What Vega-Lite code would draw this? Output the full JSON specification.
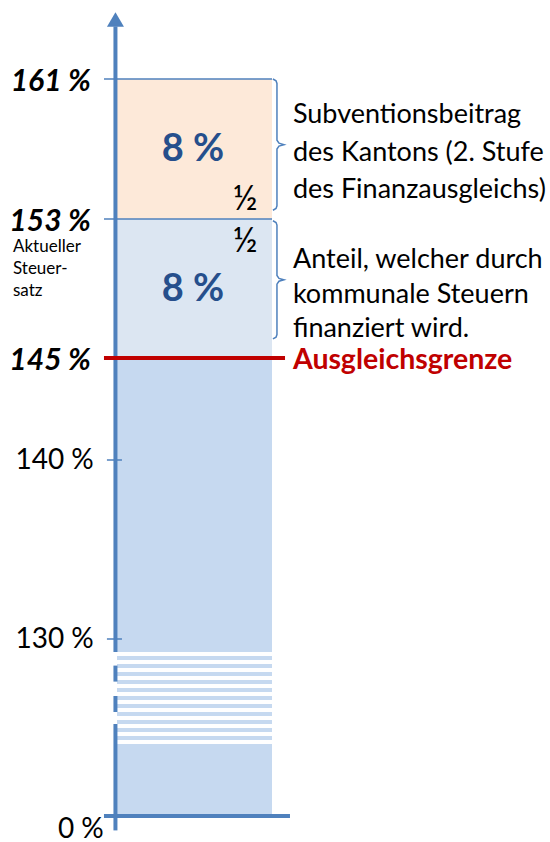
{
  "$schema": "https://vega.github.io/schema/vega-lite/v6.json",
  "width": 550,
  "height": 842,
  "padding": 0,
  "autosize": {"type": "none"},
  "background": "white",
  "config": {"view": {"stroke": null}, "font": "Lato"},
  "datasets": {
    "segments": [
      {"part": "Basis", "from": 0, "to": 145},
      {"part": "Kommunal", "from": 145, "to": 153},
      {"part": "Kanton", "from": 153, "to": 161}
    ],
    "gaps": [
      {"from": 10, "to": 15}, {"from": 20, "to": 25}, {"from": 30, "to": 35},
      {"from": 40, "to": 45}, {"from": 50, "to": 55}, {"from": 60, "to": 65},
      {"from": 70, "to": 75}, {"from": 80, "to": 85}, {"from": 90, "to": 95},
      {"from": 100, "to": 105}, {"from": 110, "to": 115}, {"from": 120, "to": 125}
    ],
    "axisline": [
      {"from": -2, "to": 35}, {"from": 50, "to": 70},
      {"from": 88, "to": 108}, {"from": 125, "to": 164}
    ],
    "levels": [
      {"v": 161, "label": "161 %", "kind": "key"},
      {"v": 153, "label": "153 %", "kind": "key"},
      {"v": 145, "label": "145 %", "kind": "limit"},
      {"v": 140, "label": "140 %", "kind": "tick"},
      {"v": 130, "label": "130 %", "kind": "tick"},
      {"v": 0, "label": "0 %", "kind": "base"}
    ],
    "shares": [
      {"v": 157, "text": "8 %"},
      {"v": 149, "text": "8 %"}
    ],
    "halves": [
      {"v": 154.1, "text": "½"},
      {"v": 151.7, "text": "½"}
    ],
    "notes": [
      {"v": 161, "text": ["Subventionsbeitrag", "des Kantons (2. Stufe", "des Finanzausgleichs)"]}
    ],
    "notes2": [
      {"v": 153, "text": ["Anteil, welcher durch", "kommunale Steuern", "finanziert wird."]}
    ],
    "braces": [
      {"b": 1, "i": 1, "x": 1.006, "v": 161},
      {"b": 1, "i": 2, "x": 1.026, "v": 160.9},
      {"b": 1, "i": 3, "x": 1.032, "v": 160.75},
      {"b": 1, "i": 4, "x": 1.032, "v": 157.5},
      {"b": 1, "i": 5, "x": 1.045, "v": 157.33},
      {"b": 1, "i": 6, "x": 1.077, "v": 157.25},
      {"b": 1, "i": 7, "x": 1.045, "v": 157.17},
      {"b": 1, "i": 8, "x": 1.032, "v": 157.0},
      {"b": 1, "i": 9, "x": 1.032, "v": 153.75},
      {"b": 1, "i": 10, "x": 1.026, "v": 153.6},
      {"b": 1, "i": 11, "x": 1.006, "v": 153.5},
      {"b": 2, "i": 1, "x": 1.006, "v": 152.9},
      {"b": 2, "i": 2, "x": 1.026, "v": 152.8},
      {"b": 2, "i": 3, "x": 1.032, "v": 152.65},
      {"b": 2, "i": 4, "x": 1.032, "v": 149.75},
      {"b": 2, "i": 5, "x": 1.045, "v": 149.58},
      {"b": 2, "i": 6, "x": 1.077, "v": 149.5},
      {"b": 2, "i": 7, "x": 1.045, "v": 149.42},
      {"b": 2, "i": 8, "x": 1.032, "v": 149.25},
      {"b": 2, "i": 9, "x": 1.032, "v": 146.35},
      {"b": 2, "i": 10, "x": 1.026, "v": 146.2},
      {"b": 2, "i": 11, "x": 1.006, "v": 146.1}
    ]
  },
  "data": {"name": "segments"},
  "layer": [
    {
      "data": {"name": "segments"},
      "mark": {"type": "rect"},
      "encoding": {
        "x": {"datum": 0, "type": "quantitative", "scale": {"domain": [-0.7548, 2.7935], "nice": false, "zero": false}, "axis": null},
        "x2": {"datum": 1},
        "y": {"field": "from", "type": "quantitative", "scale": {"domain": [0, 10, 125, 130, 140, 145, 153, 161, 165], "range": [816, 744, 652, 639, 460, 358, 219, 79, 9], "nice": false, "zero": false}, "axis": null},
        "y2": {"field": "to"},
        "color": {"field": "part", "type": "nominal", "scale": {"domain": ["Basis", "Kommunal", "Kanton"], "range": ["#c6d9f0", "#dce6f2", "#fde9d9"]}, "legend": null}
      }
    },
    {
      "data": {"name": "gaps"},
      "mark": {"type": "rect", "color": "white"},
      "encoding": {
        "x": {"datum": -0.015, "type": "quantitative"},
        "x2": {"datum": 1.002},
        "y": {"field": "from", "type": "quantitative"},
        "y2": {"field": "to"}
      }
    },
    {
      "data": {"name": "levels"},
      "transform": [{"filter": "datum.kind === 'key'"}],
      "mark": {"type": "rule", "color": "#4f81bd", "strokeWidth": 1.5},
      "encoding": {
        "x": {"datum": -0.084, "type": "quantitative"},
        "x2": {"datum": 1.0},
        "y": {"field": "v", "type": "quantitative"}
      }
    },
    {
      "data": {"name": "levels"},
      "transform": [{"filter": "datum.kind === 'tick'"}],
      "mark": {"type": "rule", "color": "#4f81bd", "strokeWidth": 1.5},
      "encoding": {
        "x": {"datum": -0.065, "type": "quantitative"},
        "x2": {"datum": 0.032},
        "y": {"field": "v", "type": "quantitative"}
      }
    },
    {
      "data": {"name": "axisline"},
      "mark": {"type": "rule", "color": "#4f81bd", "strokeWidth": 4},
      "encoding": {
        "x": {"datum": -0.01, "type": "quantitative"},
        "y": {"field": "from", "type": "quantitative"},
        "y2": {"field": "to"}
      }
    },
    {
      "data": {"values": [{"v": 164.4}]},
      "mark": {"type": "point", "shape": "triangle-up", "filled": true, "color": "#4f81bd", "size": 289, "opacity": 1},
      "encoding": {
        "x": {"datum": -0.01, "type": "quantitative"},
        "y": {"field": "v", "type": "quantitative"}
      }
    },
    {
      "data": {"name": "levels"},
      "transform": [{"filter": "datum.kind === 'base'"}],
      "mark": {"type": "rule", "color": "#4f81bd", "strokeWidth": 4},
      "encoding": {
        "x": {"datum": -0.084, "type": "quantitative"},
        "x2": {"datum": 1.116},
        "y": {"field": "v", "type": "quantitative"}
      }
    },
    {
      "data": {"name": "levels"},
      "transform": [{"filter": "datum.kind === 'limit'"}],
      "mark": {"type": "rule", "color": "#c00000", "strokeWidth": 4},
      "encoding": {
        "x": {"datum": -0.084, "type": "quantitative"},
        "x2": {"datum": 1.084},
        "y": {"field": "v", "type": "quantitative"}
      }
    },
    {
      "data": {"name": "braces"},
      "mark": {"type": "line", "color": "#4f81bd", "strokeWidth": 1.5},
      "encoding": {
        "x": {"field": "x", "type": "quantitative"},
        "y": {"field": "v", "type": "quantitative"},
        "detail": {"field": "b"},
        "order": {"field": "i"}
      }
    },
    {
      "data": {"name": "levels"},
      "transform": [{"filter": "datum.kind === 'key' || datum.kind === 'limit'"}],
      "mark": {"type": "text", "align": "right", "baseline": "middle", "font": "Lato", "fontSize": 30, "fontWeight": "bold", "fontStyle": "italic", "color": "black", "dy": 3},
      "encoding": {
        "x": {"datum": -0.168, "type": "quantitative"},
        "y": {"field": "v", "type": "quantitative"},
        "text": {"field": "label"}
      }
    },
    {
      "data": {"name": "levels"},
      "transform": [{"filter": "datum.kind === 'tick'"}],
      "mark": {"type": "text", "align": "right", "baseline": "middle", "font": "Lato", "fontSize": 28, "color": "black", "dy": 1},
      "encoding": {
        "x": {"datum": -0.15, "type": "quantitative"},
        "y": {"field": "v", "type": "quantitative"},
        "text": {"field": "label"}
      }
    },
    {
      "data": {"name": "levels"},
      "transform": [{"filter": "datum.kind === 'base'"}],
      "mark": {"type": "text", "align": "right", "baseline": "middle", "font": "Lato", "fontSize": 28, "color": "black", "dy": 14},
      "encoding": {
        "x": {"datum": -0.085, "type": "quantitative"},
        "y": {"field": "v", "type": "quantitative"},
        "text": {"field": "label"}
      }
    },
    {
      "data": {"values": [{"v": 153, "text": ["Aktueller", "Steuer-", "satz"]}]},
      "mark": {"type": "text", "align": "left", "baseline": "alphabetic", "font": "Lato", "fontSize": 17, "lineHeight": 22, "color": "black", "dy": 33},
      "encoding": {
        "x": {"datum": -0.671, "type": "quantitative"},
        "y": {"field": "v", "type": "quantitative"},
        "text": {"field": "text"}
      }
    },
    {
      "data": {"name": "shares"},
      "mark": {"type": "text", "align": "center", "baseline": "middle", "font": "Lato", "fontSize": 38, "fontWeight": "bold", "color": "#264f8c", "dy": 1},
      "encoding": {
        "x": {"datum": 0.49, "type": "quantitative"},
        "y": {"field": "v", "type": "quantitative"},
        "text": {"field": "text"}
      }
    },
    {
      "data": {"name": "halves"},
      "mark": {"type": "text", "align": "center", "baseline": "middle", "font": "Lato", "fontSize": 34, "color": "black"},
      "encoding": {
        "x": {"datum": 0.826, "type": "quantitative"},
        "y": {"field": "v", "type": "quantitative"},
        "text": {"field": "text"}
      }
    },
    {
      "data": {"name": "notes"},
      "mark": {"type": "text", "align": "left", "baseline": "alphabetic", "font": "Lato", "fontSize": 27, "lineHeight": 37.5, "color": "black", "dy": 44},
      "encoding": {
        "x": {"datum": 1.135, "type": "quantitative"},
        "y": {"field": "v", "type": "quantitative"},
        "text": {"field": "text"}
      }
    },
    {
      "data": {"name": "notes2"},
      "mark": {"type": "text", "align": "left", "baseline": "alphabetic", "font": "Lato", "fontSize": 27, "lineHeight": 34.7, "color": "black", "dy": 49},
      "encoding": {
        "x": {"datum": 1.135, "type": "quantitative"},
        "y": {"field": "v", "type": "quantitative"},
        "text": {"field": "text"}
      }
    },
    {
      "data": {"values": [{"v": 145, "text": "Ausgleichsgrenze"}]},
      "mark": {"type": "text", "align": "left", "baseline": "middle", "font": "Lato", "fontSize": 28.5, "fontWeight": "bold", "color": "#c00000", "dy": 2},
      "encoding": {
        "x": {"datum": 1.135, "type": "quantitative"},
        "y": {"field": "v", "type": "quantitative"},
        "text": {"field": "text"}
      }
    }
  ]
}
